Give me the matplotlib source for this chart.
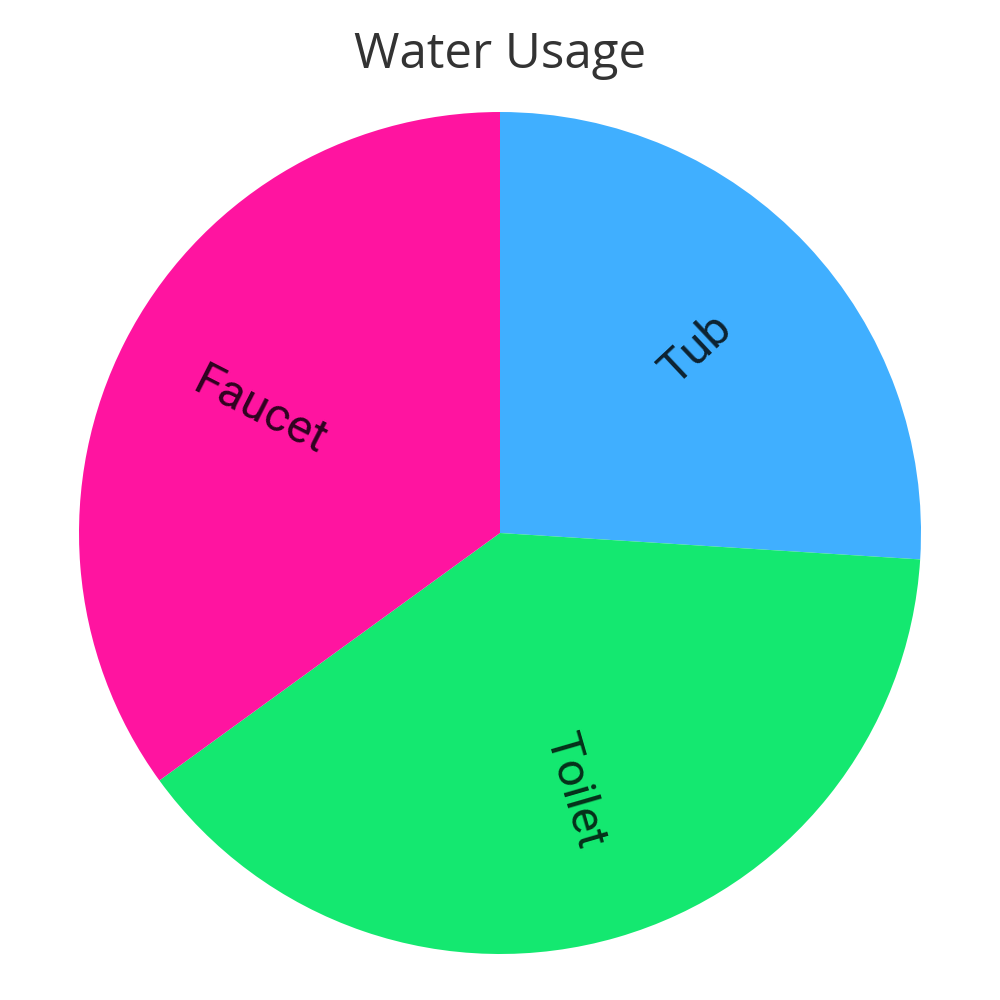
import matplotlib
matplotlib.use("Agg")
import matplotlib.pyplot as plt

# slice data, clockwise from 12 o'clock
labels = ["Tub", "Toilet", "Faucet"]
values = [26, 39, 35]
colors = ["#40AFFF", "#14E870", "#FF14A0"]
label_colors = ["#0d2230", "#05301a", "#2e0320"]

fig = plt.figure(figsize=(10, 10), dpi=100)
ax = fig.add_axes([0.079, 0.046, 0.842, 0.842])

wedges, texts = ax.pie(values, labels=labels, colors=colors, startangle=90,
                       counterclock=False, labeldistance=0.64, rotatelabels=True,
                       radius=1, wedgeprops=dict(linewidth=0),
                       textprops=dict(fontsize=34, family=["Roboto", "DejaVu Sans"]))
for t, c in zip(texts, label_colors):
    t.set_color(c)
    t.set_horizontalalignment("center")
    t.set_verticalalignment("center")

ax.set_xlim(-1, 1)
ax.set_ylim(-1, 1)
ax.set_aspect("equal")
ax.axis("off")

fig.text(0.5, 0.945, "Water Usage", ha="center", va="center", fontsize=35.5,
         color="#333333", family=["Open Sans", "DejaVu Sans"])

fig.savefig("out.png", dpi=100, facecolor="white")
